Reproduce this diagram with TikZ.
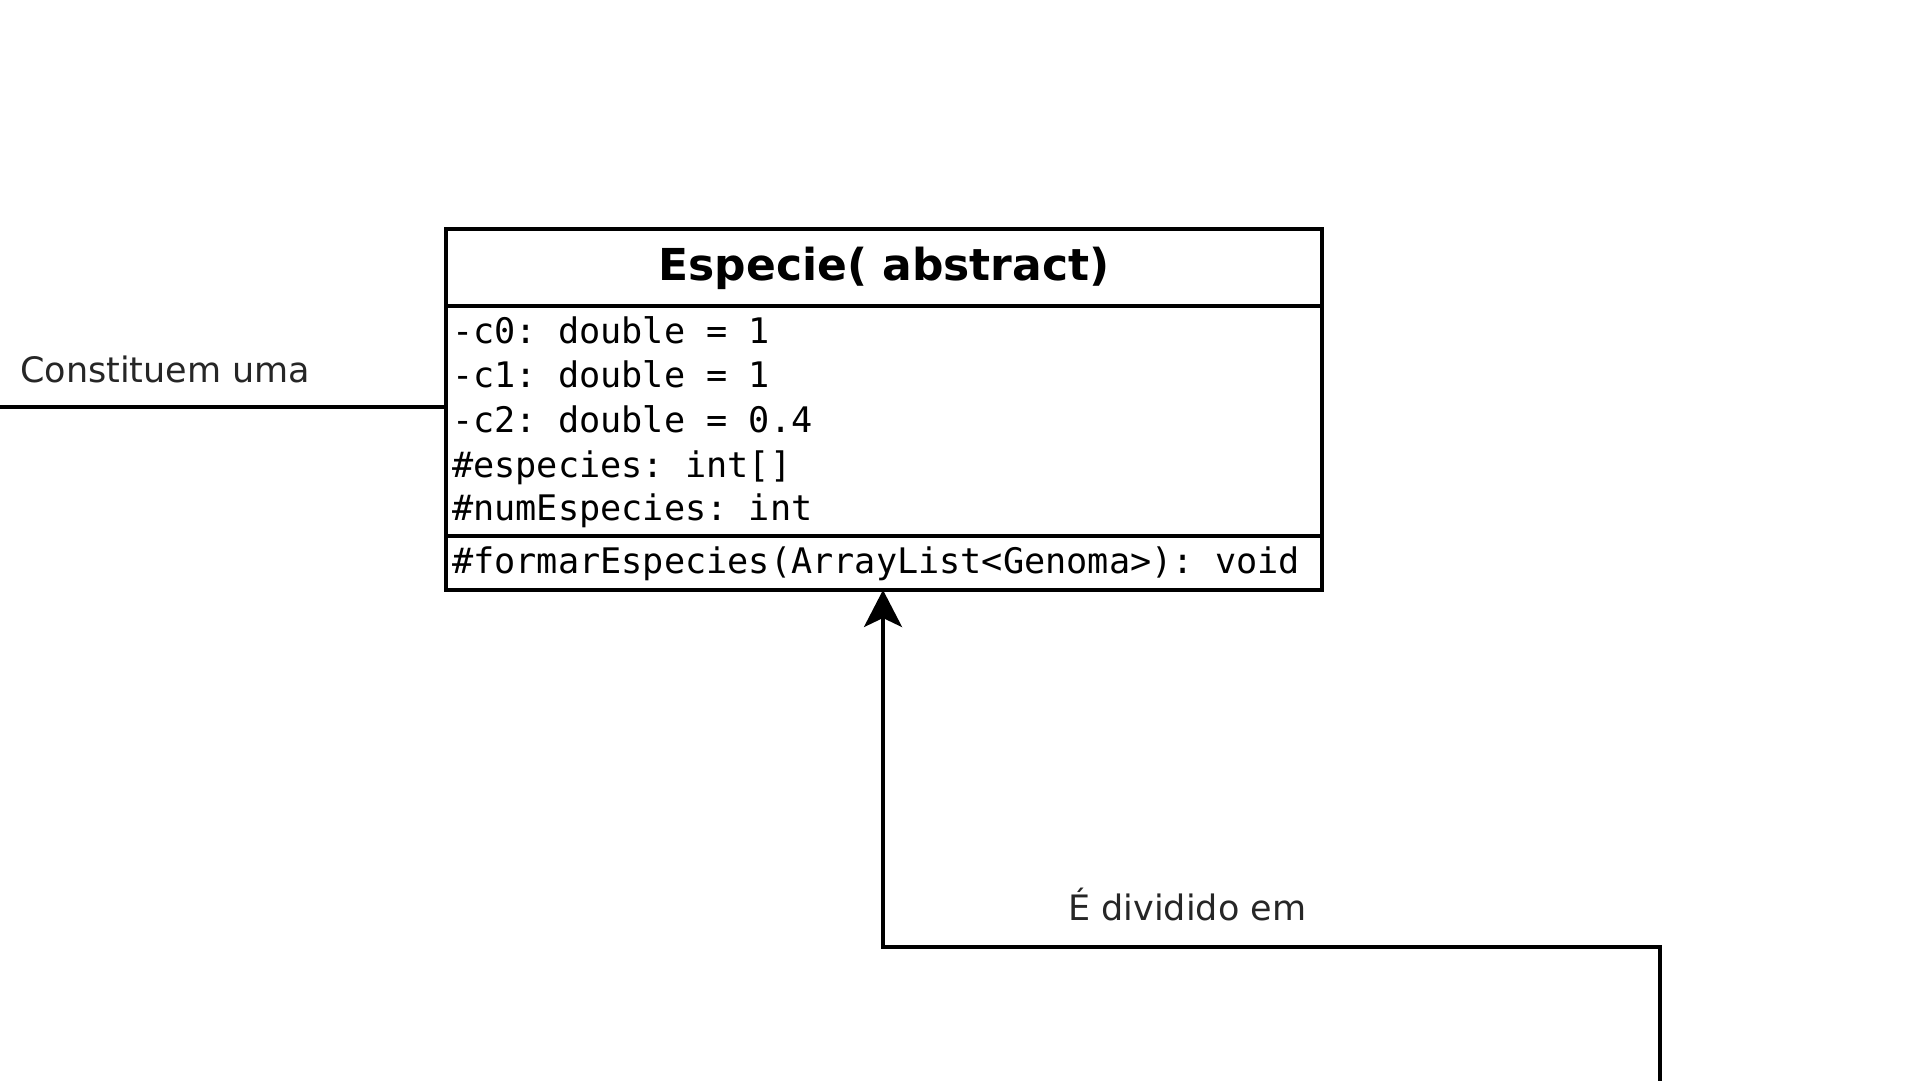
\documentclass[tikz,border=0pt]{standalone}
\usepackage{fontspec}
\setmainfont{DejaVu Sans}
\newfontfamily\umlmono{DejaVu Sans Mono}
\usetikzlibrary{arrows.meta}
\tikzset{
  umlline/.style={line width=3.5pt, draw=black},
  attrtext/.style={anchor=base west, inner sep=0pt, font=\umlmono\frenchspacing\fontsize{35.2}{44.3}\selectfont},
  labeltext/.style={anchor=base west, inner sep=0pt, text=black!85, font=\frenchspacing\fontsize{35}{42}\selectfont},
  headtext/.style={anchor=base, inner sep=0pt, font=\bfseries\fontsize{44}{52}\selectfont},
  inherit/.style={umlline, -{Stealth[length=37pt, width=38pt, inset=9pt]}}
}
\begin{document}
\begin{tikzpicture}[x=1pt, y=-1pt]
\useasboundingbox (0,0) rectangle (1920,1080);
\fill[white] (0,0) rectangle (1920,1080);
% class box
\node[umlline, rectangle, anchor=north west, minimum width=876pt, minimum height=361pt, inner sep=0pt, outer sep=0pt] (box) at (446,229) {};
\coordinate (hdiv) at (446,306);
\coordinate (mdiv) at (446,536);
\draw[umlline] (hdiv) -- (hdiv -| box.east);
\draw[umlline] (mdiv) -- (mdiv -| box.east);
\node[headtext] (title) at (884,280) {Especie( abstract)};
\node[attrtext] (a0) at (452,343) {-c0: double = 1};
\node[attrtext] (a1) at (452,387) {-c1: double = 1};
\node[attrtext] (a2) at (452,432) {-c2: double = 0.4};
\node[attrtext] (a3) at (452,477) {\#especies: int[]};
\node[attrtext] (a4) at (452,520) {\#numEspecies: int};
\node[attrtext] (m0) at (452,573) {\#formarEspecies(ArrayList<Genoma>): void};
% left association
\coordinate (lend) at (0,407);
\draw[umlline] (lend) -- (lend -| box.west);
\node[labeltext] (lab1) at (20,382) {Constituem uma};
% inheritance connector
\coordinate (aend) at (1660,1082);
\coordinate (bend1) at (1660,947);
\coordinate (bend2) at (883,947);
\draw[inherit] (aend) -- (bend1) -- (bend2) -- (bend2 |- box.south);
\node[labeltext] (lab2) at (1068,920) {É dividido em};
\end{tikzpicture}
\end{document}
